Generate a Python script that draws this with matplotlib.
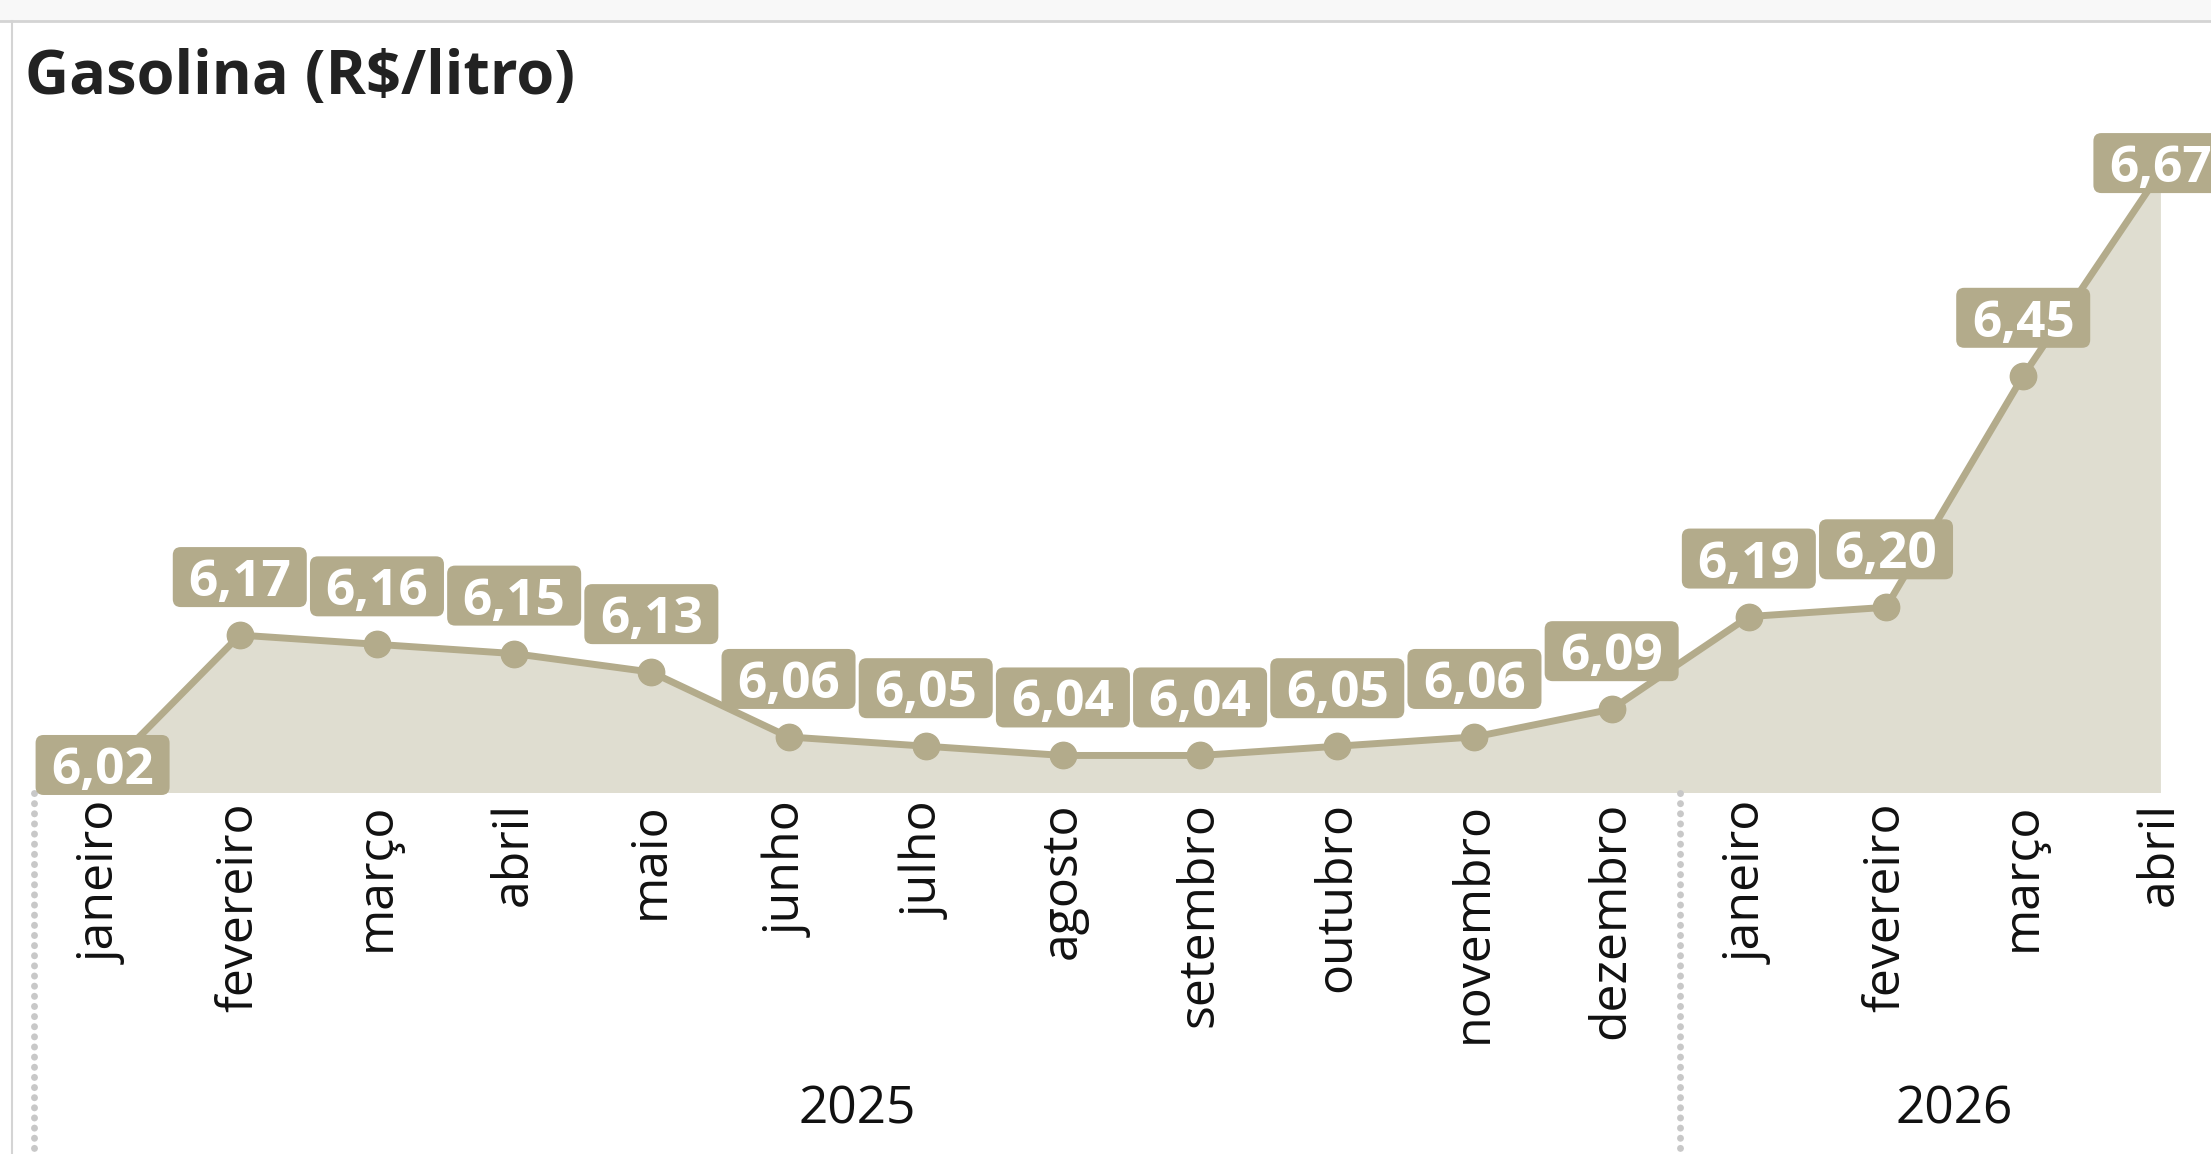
import matplotlib
matplotlib.use("Agg")
import matplotlib.pyplot as plt
from matplotlib.patches import FancyBboxPatch, Rectangle
from matplotlib.lines import Line2D
from matplotlib.transforms import ScaledTranslation

plt.rcParams['font.family'] = ['Open Sans', 'DejaVu Sans']

# dados
meses = ["janeiro", "fevereiro", "março", "abril", "maio", "junho", "julho",
         "agosto", "setembro", "outubro", "novembro", "dezembro",
         "janeiro", "fevereiro", "março", "abril"]
precos = [6.02, 6.17, 6.16, 6.15, 6.13, 6.06, 6.05, 6.04, 6.04, 6.05, 6.06,
          6.09, 6.19, 6.20, 6.45, 6.67]
anos = ["2025", "2026"]
meses_por_ano = [12, 4]
y_min = 6.0

cor_linha = "#b3ab8b"
cor_area = "#dfddd0"

W, H = 2211, 1154
fig = plt.figure(figsize=(W / 100, H / 100), dpi=100)
fig.patch.set_facecolor("white")

# moldura da pagina
fig.add_artist(Rectangle((0, 1 - 21 / H), 1, 21 / H, transform=fig.transFigure,
                         facecolor="#f8f8f8", edgecolor="none"))
fig.add_artist(Line2D([0, 1], [1 - 21 / H, 1 - 21 / H], transform=fig.transFigure,
                      color="#d4d4d4", lw=2))
fig.add_artist(Line2D([12 / W, 12 / W], [0, 1 - 21 / H], transform=fig.transFigure,
                      color="#d4d4d4", lw=1.5))

ax = fig.add_axes([34 / W, 1 - 792.5 / H, 2195 / W, 771.5 / H])
ax.set_facecolor("none")
x = list(range(len(precos)))

ax.fill_between(x, y_min, precos, color=cor_area, lw=0, zorder=1)
ax.plot(x, precos, color=cor_linha, lw=5, marker="o", ms=19, zorder=2,
        solid_joinstyle="round")

ax.set_xlim(-0.5, len(precos) - 0.5)
ax.set_ylim(y_min, y_min + 771.5 / 926)
for s in ax.spines.values():
    s.set_visible(False)
ax.set_yticks([])
ax.set_xticks(x)
ax.set_xticklabels(meses, rotation=90, fontsize=36, color="#111111")
ax.tick_params(axis="x", length=0, pad=7)

# rotulos de valor
box_w, box_h = 134, 60
label_dy = {0: 9, len(precos) - 1: 9}
for i, v in enumerate(precos):
    dy = label_dy.get(i, 58)
    tr = ScaledTranslation(i, v, ax.transData)
    box = FancyBboxPatch((-box_w / 2, dy - box_h / 2), box_w, box_h,
                         boxstyle="round,pad=0,rounding_size=8",
                         transform=tr, facecolor=cor_linha, edgecolor="none",
                         clip_on=False, zorder=3)
    ax.add_artist(box)
    ax.annotate(f"{v:.2f}".replace(".", ","), (i, v),
                xytext=(0, dy - 19), textcoords="offset pixels",
                ha="center", va="baseline", fontsize=37, fontweight="bold",
                color="white", zorder=4, annotation_clip=False)

# separadores de ano e rotulos
xt = ax.get_xaxis_transform()
inicio = -0.5
for ano, n in zip(anos, meses_por_ano):
    ax.plot([inicio, inicio], [0, -0.47], transform=xt, color="#c8c8c8",
            lw=5, linestyle=(0, (0.01, 1.45)), dash_capstyle="round",
            clip_on=False)
    ax.text(inicio + n / 2, -(1123 - 792.5) / 771.5, ano, transform=xt,
            ha="center", va="baseline", fontsize=37, color="#111111")
    inicio += n

fig.text(25 / W, 1 - 94 / H, "Gasolina (R$/litro)", fontsize=44,
         fontweight="bold", color="#222222", ha="left", va="baseline")

fig.savefig("out.png", dpi=100)
